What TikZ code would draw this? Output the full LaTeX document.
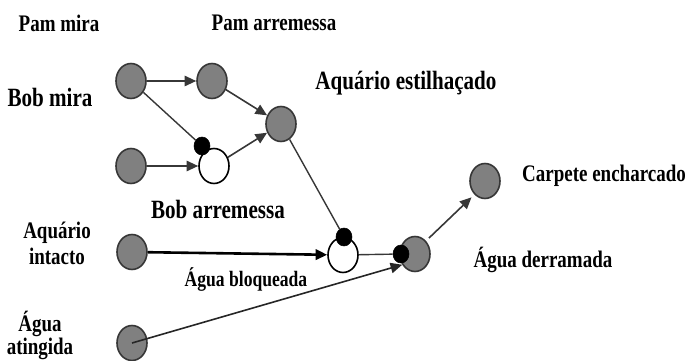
\documentclass[tikz,border=0pt]{standalone}
\usepackage{fontspec}
\usepackage{graphicx}
\setmainfont{Liberation Serif}
\usetikzlibrary{shapes.geometric,arrows.meta}
\definecolor{nodegray}{RGB}{128,128,128}
\definecolor{edgegray}{RGB}{55,55,55}
\newcommand{\stretchy}[1]{\scalebox{1}[1.25]{#1}}
\tikzset{
    event/.style={ellipse, draw=edgegray, line width=0.4mm, fill=nodegray,
        minimum width=7.5mm, minimum height=8.75mm, inner sep=0pt},
    blocked/.style={event, fill=white, draw=black},
    inhib/.style={ellipse, fill=black, draw=black, minimum width=4mm,
        minimum height=4.5mm, inner sep=0pt},
    lbl/.style={font=\fontsize{13.5}{15}\selectfont\bfseries, inner sep=0pt},
    biglbl/.style={lbl, font=\fontsize{15}{17}\selectfont\bfseries},
    arr/.style={draw=edgegray, line width=0.4mm, -{Triangle[length=2.9mm,width=2.6mm]}},
    ln/.style={draw=edgegray, line width=0.35mm},
}
\begin{document}
\begin{tikzpicture}[x=0.25mm, y=-0.25mm]
    \useasboundingbox (0,0) rectangle (689,361);
    % events
    \node[event] (pm) at (131,81) {};
    \node[event] (pa) at (212,81) {};
    \node[event] (ae) at (281,124) {};
    \node[event] (bm) at (131,166) {};
    \node[blocked] (ba) at (214,166) {};
    \node[event] (ai) at (132,252) {};
    \node[blocked] (ab) at (343,255) {};
    \node[event] (ad) at (415,254) {};
    \node[event] (at) at (132,343) {};
    \node[event] (ce) at (485,181) {};
    % inhibitors
    \node[inhib] (badot) at (202,146) {};
    \node[inhib] (abdot) at (344,237) {};
    \node[inhib] (addot) at (401,254) {};
    % labels
    \node[lbl] (pmlbl) at (59,23) {\stretchy{Pam mira}};
    \node[lbl] (palbl) at (274,23) {\stretchy{Pam arremessa}};
    \node[biglbl] (bmlbl) at (50,97) {\stretchy{Bob mira}};
    \node[biglbl] (aelbl) at (406,83) {\stretchy{Aquário estilhaçado}};
    \node[biglbl] (balbl) at (218,209) {\stretchy{Bob arremessa}};
    \node[lbl] (ailbl) at (57,246) {\stretchy{\begin{tabular}{@{}c@{}}Aquário\\intacto\end{tabular}}};
    \node[lbl, font=\fontsize{12.5}{14}\selectfont\bfseries] (ablbl) at (246,279) {\stretchy{Água bloqueada}};
    \node[lbl] (celbl) at (604,176) {\stretchy{Carpete encharcado}};
    \node[lbl] (adlbl) at (543,260) {\stretchy{Água derramada}};
    \node[lbl] (atlbl) at (40,337) {\stretchy{\begin{tabular}{@{}c@{}}Água\\[-2pt]atingida\end{tabular}}};
    % connectors
    \draw[arr] (pm) -- (pa);
    \draw[arr] (pa) -- (ae);
    \draw[ln] (pm) -- (badot);
    \draw[arr] (bm) -- (ba);
    \draw[arr] (ba) -- (ae);
    \draw[ln] (ae) -- (abdot);
    \draw[arr, draw=black, line width=0.65mm] (ai) -- (ab);
    \draw[ln] (ab) -- (addot);
    \draw[arr, draw=black!85] (at.center) -- (ad.220);
    \draw[arr, shorten <=1mm, shorten >=1mm] (ad.50) -- (ce.232);
\end{tikzpicture}
\end{document}
